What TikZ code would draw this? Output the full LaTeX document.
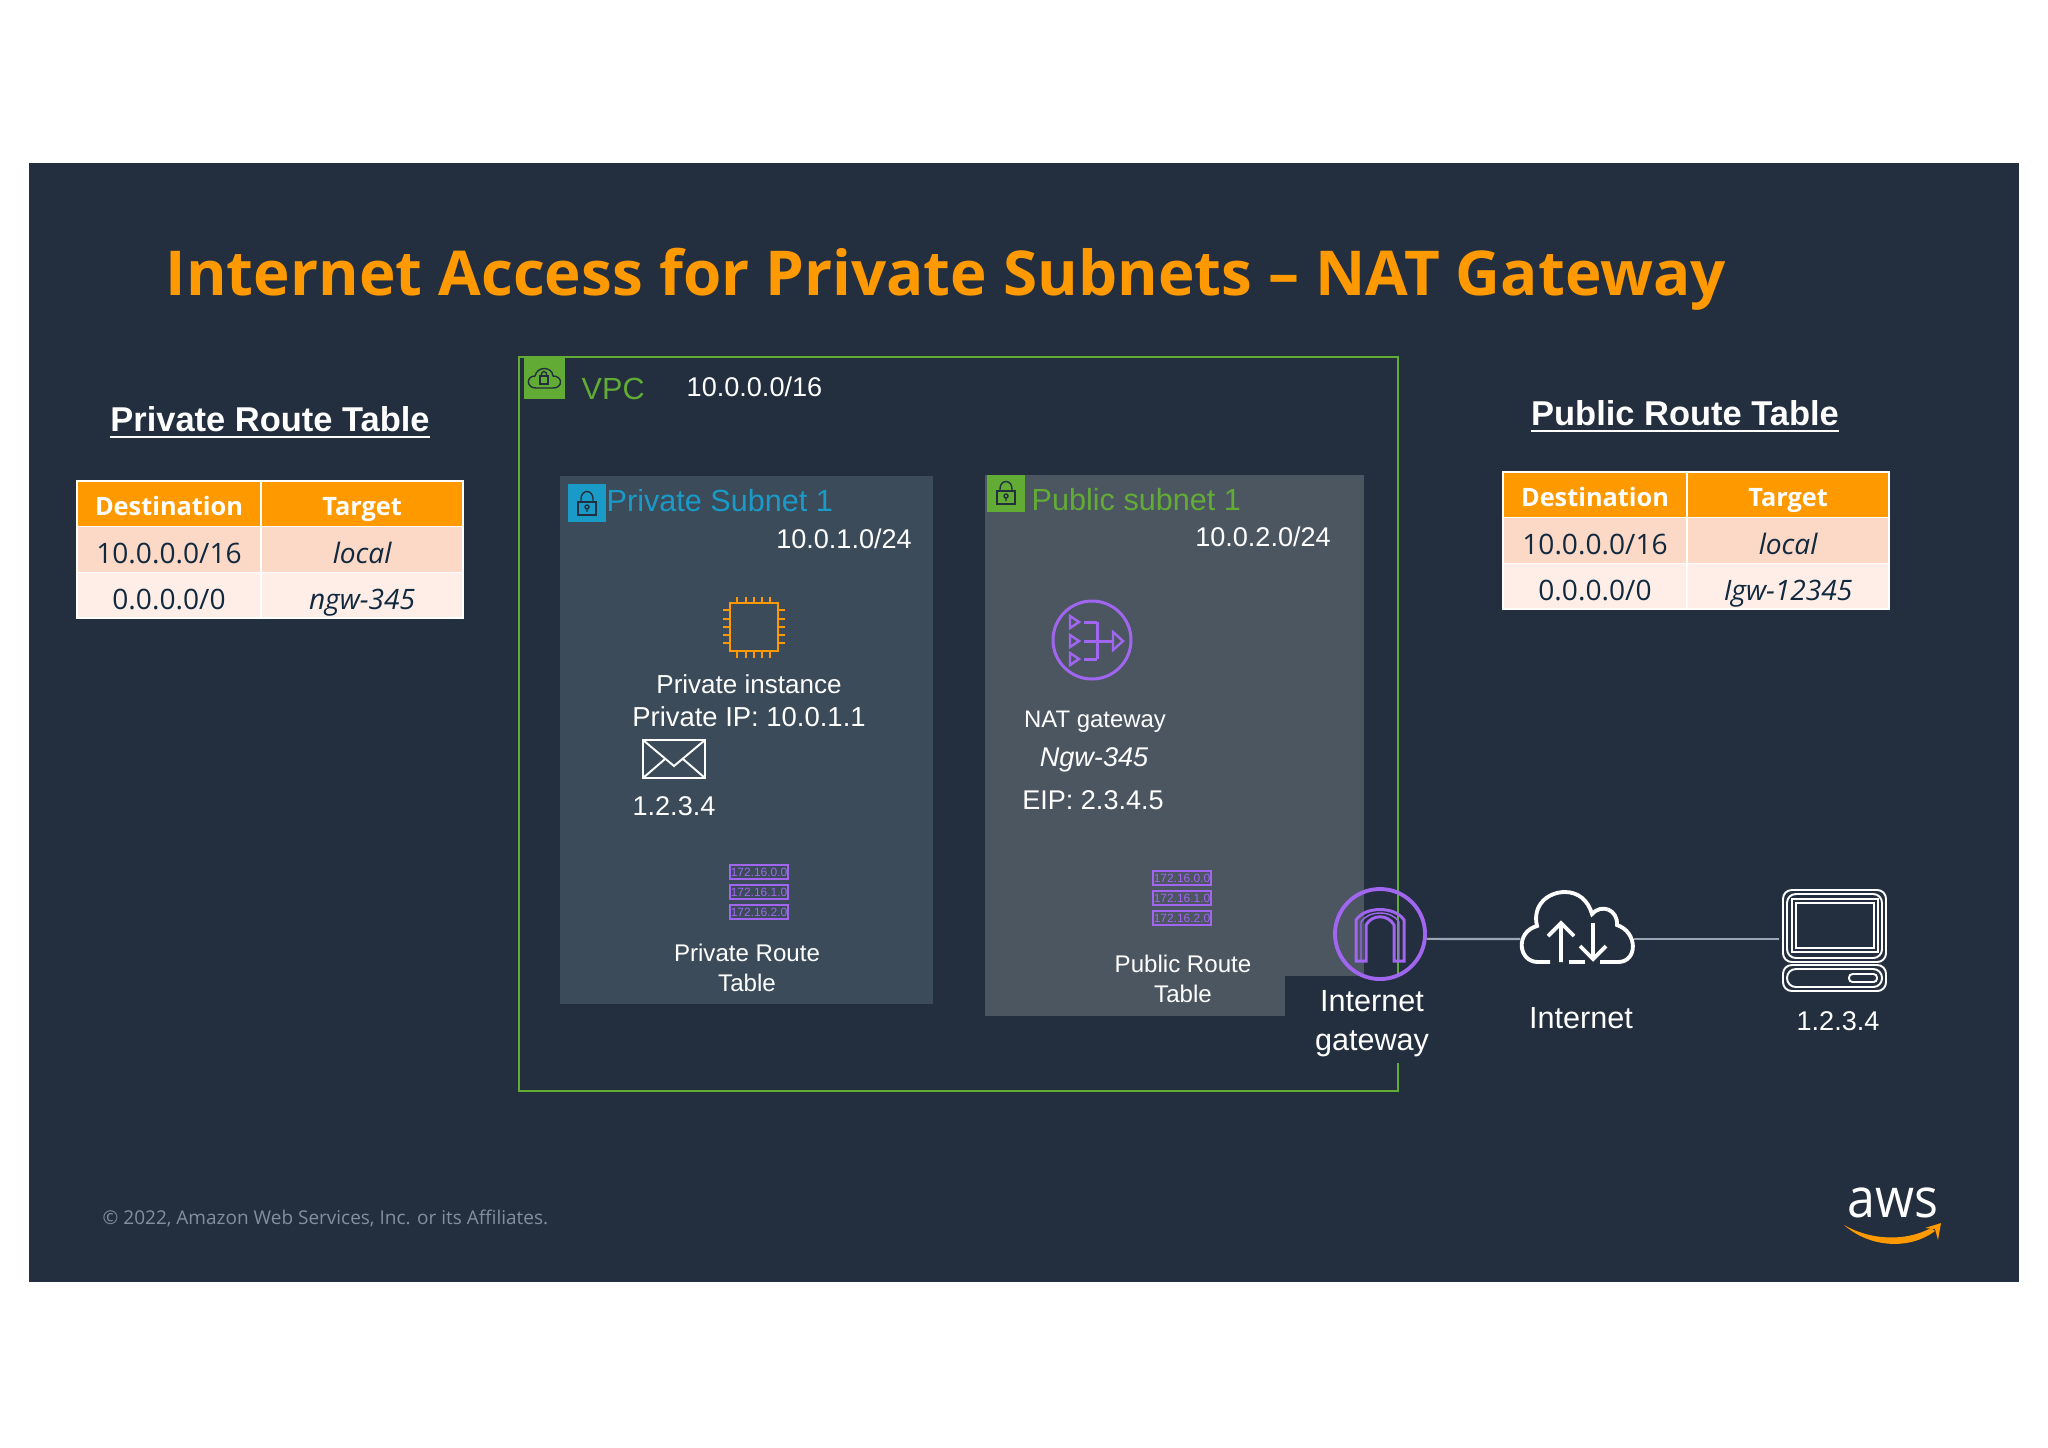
\documentclass[tikz,border=0pt]{standalone}
\usepackage{fontspec}
\setmainfont{Liberation Sans}
\newfontfamily\emberfont{Open Sans}
\usetikzlibrary{positioning,arrows.meta}
\definecolor{slide_bg}{HTML}{232F3E}
\definecolor{aws_orange}{HTML}{FF9900}
\definecolor{vpc_green}{HTML}{62AC36}
\definecolor{lock_blue}{HTML}{1A9BC7}
\definecolor{igw_purple}{HTML}{A166F0}
\definecolor{priv_box}{HTML}{3B4B5A}
\definecolor{pub_box}{HTML}{4B5660}
\definecolor{row_dark}{HTML}{FCD9C6}
\definecolor{row_light}{HTML}{FEEEE7}
\definecolor{cell_text}{HTML}{10293F}
\definecolor{link_grey}{HTML}{9AA7B4}
\tikzset{
	lbl/.style={text=white,inner sep=0pt,font=\fontsize{7.7}{10}\selectfont},
	lbl_small/.style={lbl,align=center,font=\fontsize{6.85}{8.4}\selectfont},
	lbl_big/.style={lbl,align=center,font=\fontsize{8.7}{11.1}\selectfont},
	heading/.style={lbl,font=\fontsize{9.8}{11}\bfseries\selectfont},
	head_cell/.style={draw=white,line width=.6pt,outer sep=0pt,fill=aws_orange,text=white,inner sep=0pt,minimum height=.455cm,text height=1.7ex,text depth=.5ex,font=\emberfont\fontsize{7.2}{9}\bfseries\selectfont},
	row_cell/.style={draw=white,line width=.4pt,outer sep=0pt,text=cell_text,inner sep=0pt,minimum height=.455cm,text height=1.9ex,text depth=.4ex,font=\emberfont\fontsize{8}{10}\selectfont},
	rt_row/.style={draw=igw_purple,line width=.55pt,text=igw_purple,inner sep=0pt,minimum width=.58cm,minimum height=.145cm,font=\fontsize{3.4}{4}\selectfont},
	icon_line/.style={draw=white,line width=1.1pt},
	purple_line/.style={draw=igw_purple,line width=.85pt},
	lock_line/.style={draw=slide_bg,line width=.4pt},
	link/.style={draw=link_grey,line width=.6pt}
}
\begin{document}
\begin{tikzpicture}[x=.01cm,y=-.01cm]
	\useasboundingbox (0,0) rectangle (2048,1447);
	\fill[white] (0,0) rectangle (2048,1447);
	\fill[slide_bg] (29,163) rectangle (2019,1282);

	\node[inner sep=0pt,text=aws_orange,font=\emberfont\fontsize{17.6}{20}\bfseries\selectfont,anchor=west](title) at (165,279){Internet Access for Private Subnets – NAT Gateway};

	\node[heading](priv_head) at (270,423){\underline{Private Route Table}};
	\node[heading](pub_head) at (1685,417){\underline{Public Route Table}};
	\foreach \tb/\ox/\oy/\hop in {priv/77/481/ngw-345,pub/1503/472/Igw-12345}{
		\node[head_cell,minimum width=1.84cm](\tb_dest) at (\ox+92,\oy+23){Destination};
		\node[head_cell,minimum width=2.02cm,right=0pt of \tb_dest](\tb_target){Target};
		\node[row_cell,fill=row_dark,minimum width=1.84cm,below=0pt of \tb_dest](\tb_d1){10.0.0.0/16};
		\node[row_cell,fill=row_dark,minimum width=2.02cm,below=0pt of \tb_target](\tb_t1){\itshape local};
		\node[row_cell,fill=row_light,minimum width=1.84cm,below=0pt of \tb_d1](\tb_d2){0.0.0.0/0};
		\node[row_cell,fill=row_light,minimum width=2.02cm,below=0pt of \tb_t1](\tb_t2){\itshape \hop};
	}

	\draw[vpc_green,line width=.7pt] (519,357) rectangle (1398,1091);
	\fill[vpc_green] (524,358) rectangle (565,399);
	\draw[lock_line] (536,388) .. controls (526,388) and (526,376) .. (535,376) .. controls (537,366) and (552,366) .. (553,376) .. controls (563,376) and (563,388) .. (553,388) -- cycle;
	\draw[lock_line] (540,376) rectangle (548,384);
	\draw[lock_line] (541,376) .. controls (541,370) and (547,370) .. (547,376);
	\node[lbl_big,text=vpc_green,anchor=west](vpc_lbl) at (581,389){VPC};
	\node[lbl,anchor=west](vpc_cidr) at (686,387){10.0.0.0/16};

	\fill[priv_box] (560,476) rectangle (933,1004);
	\fill[lock_blue] (568,484) rectangle (606,522);
	\draw[lock_line] (578,502) rectangle (596,515);
	\draw[lock_line] (581,502) -- (581,499) .. controls (581,489) and (593,489) .. (593,499) -- (593,502);
	\draw[lock_line] (587,507) circle (2) (587,509) -- (587,512);
	\node[lbl_big,text=lock_blue,anchor=west](priv_lbl) at (606,501){Private Subnet 1};
	\node[lbl](priv_cidr) at (844,539){10.0.1.0/24};

	\draw[aws_orange,line width=.8pt] (730,603) rectangle (778,651);
	\foreach \p in {737,746,754,762,770}{
		\draw[aws_orange,line width=.7pt] (\p,597) -- (\p,603) (\p,651) -- (\p,658);
		\draw[aws_orange,line width=.7pt] (723,\p-127) -- (730,\p-127) (778,\p-127) -- (785,\p-127);
	}
	\node[lbl,align=center,font=\fontsize{7.4}{9.4}\selectfont](instance) at (749,701){Private instance\\\fontsize{7.8}{9.4}\selectfont Private IP: 10.0.1.1};
	\draw[icon_line,line width=.8pt] (643,740) rectangle (705,778);
	\draw[icon_line,line width=.55pt] (643,740) -- (674,766) -- (705,740) (643,778) -- (665,759) (705,778) -- (683,759);
	\node[lbl](pkt_ip) at (674,806){1.2.3.4};
	\node[lbl_small](priv_rt) at (747,968){Private Route\\Table};

	\fill[pub_box] (985,475) rectangle (1364,1016);
	\fill[vpc_green] (987,475) rectangle (1025,512);
	\draw[lock_line] (997,491) rectangle (1015,504);
	\draw[lock_line] (1000,491) -- (1000,489) .. controls (1000,479) and (1012,479) .. (1012,489) -- (1012,491);
	\draw[lock_line] (1006,496) circle (2) (1006,498) -- (1006,501);
	\node[lbl_big,text=vpc_green,anchor=west](pub_lbl) at (1031,500){Public subnet 1};
	\node[lbl](pub_cidr) at (1263,537){10.0.2.0/24};

	\draw[purple_line] (1092,640) circle (39);
	\foreach \ty in {622,641,659}{
		\draw[igw_purple,line width=.7pt] (1070,\ty-6) -- (1079,\ty) -- (1070,\ty+6) -- cycle;
		\draw[purple_line] (1084,\ty) -- (1097,\ty);
	}
	\draw[purple_line] (1097,622) -- (1097,659) (1097,641) -- (1113,641);
	\draw[igw_purple,line width=.7pt] (1113,632) -- (1123,641) -- (1113,650) -- cycle;
	\node[lbl,font=\fontsize{6.8}{8}\selectfont](nat_lbl) at (1095,722){NAT gateway};
	\node[lbl,font=\fontsize{7.7}{9}\itshape\selectfont](nat_id) at (1094,760){Ngw-345};
	\node[lbl](nat_eip) at (1093,800){EIP: 2.3.4.5};
	\node[lbl_small,font=\fontsize{6.85}{8.6}\selectfont](pub_rt) at (1183,979){Public Route\\Table};

	\foreach \ox/\oy in {729/863,1152/869}
		\foreach \row/\ip in {0/172.16.0.0,1/172.16.1.0,2/172.16.2.0}
			\node[rt_row](rt_\ox_\row) at (\ox+30,\oy+9+20*\row){\ip};

	\fill[slide_bg] (1285,976) rectangle (1440,1063);
	\node[lbl_big](igw_lbl) at (1372,1024){Internet\\gateway};
	\node[purple_line,line width=1.1pt,circle,inner sep=0pt,minimum size=.9cm](igw) at (1380,934){};
	\draw[purple_line] (1356,961) -- (1356,920) .. controls (1365,906) and (1395,906) .. (1404,920) -- (1404,961) -- (1394,961) -- (1394,925) .. controls (1388,914) and (1372,914) .. (1366,925) -- (1366,961) -- cycle;
	\draw[igw_purple,line width=.4pt] (1361,961) -- (1361,922) .. controls (1368,910) and (1392,910) .. (1399,922) -- (1399,961);

	\node[inner sep=0pt,minimum width=1.12cm,minimum height=.5cm](cloud) at (1577,939){};
	\draw[icon_line] (1550,962) -- (1538,962) .. controls (1518,962) and (1515,932) .. (1537,926) .. controls (1532,905) and (1548,892) .. (1565,892) .. controls (1578,892) and (1588,900) .. (1592,914) .. controls (1602,903) and (1618,910) .. (1617,925) .. controls (1638,932) and (1638,962) .. (1618,962) -- (1600,962);
	\draw[icon_line] (1569,962) -- (1585,962);
	\draw[icon_line] (1561,962) -- (1561,923) (1548,936) -- (1561,923) -- (1574,936);
	\draw[icon_line] (1593,923) -- (1593,959) (1580,946) -- (1593,959) -- (1606,946);
	\node[lbl_big](cloud_lbl) at (1581,1018){Internet};

	\node[inner sep=0pt,minimum width=1.08cm,minimum height=.6cm](pc) at (1834,939){};
	\draw[draw=white,line width=.55pt,rounded corners=2.5pt] (1783,890) rectangle (1886,962) (1787,894) rectangle (1882,958);
	\draw[draw=white,line width=.55pt] (1792,899) rectangle (1878,952) (1796,903) rectangle (1874,948);
	\draw[draw=white,line width=.55pt,rounded corners=2.5pt] (1783,965) rectangle (1886,991) (1787,969) rectangle (1882,987);
	\draw[draw=white,fill=slide_bg,line width=.55pt,rounded corners=1pt] (1849,974) rectangle (1877,982);
	\node[lbl](pc_ip) at (1838,1021){1.2.3.4};

	\draw[link] (igw.-6) -- (cloud.west);
	\draw[link] (cloud.east) -- (pc.west);

	\node[inner sep=0pt,text=link_grey!80!slide_bg,font=\emberfont\fontsize{5.4}{7}\selectfont,anchor=west](copyright) at (102,1218){\textcopyright{} 2022, Amazon Web Services, Inc. or its Affiliates.};
	\node[inner sep=0pt,text=white,font=\emberfont\fontsize{15.5}{20}\selectfont](aws_word) at (1893,1203){\scalebox{.92}[1]{aws}};
	\fill[aws_orange] (1844,1225) .. controls (1870,1248) and (1910,1250) .. (1935,1231) -- (1931,1228) .. controls (1905,1242) and (1870,1240) .. (1844,1225) -- cycle;
	\fill[aws_orange] (1925,1228) -- (1941,1223) -- (1938,1240) -- (1935,1229) -- cycle;
\end{tikzpicture}
\end{document}
